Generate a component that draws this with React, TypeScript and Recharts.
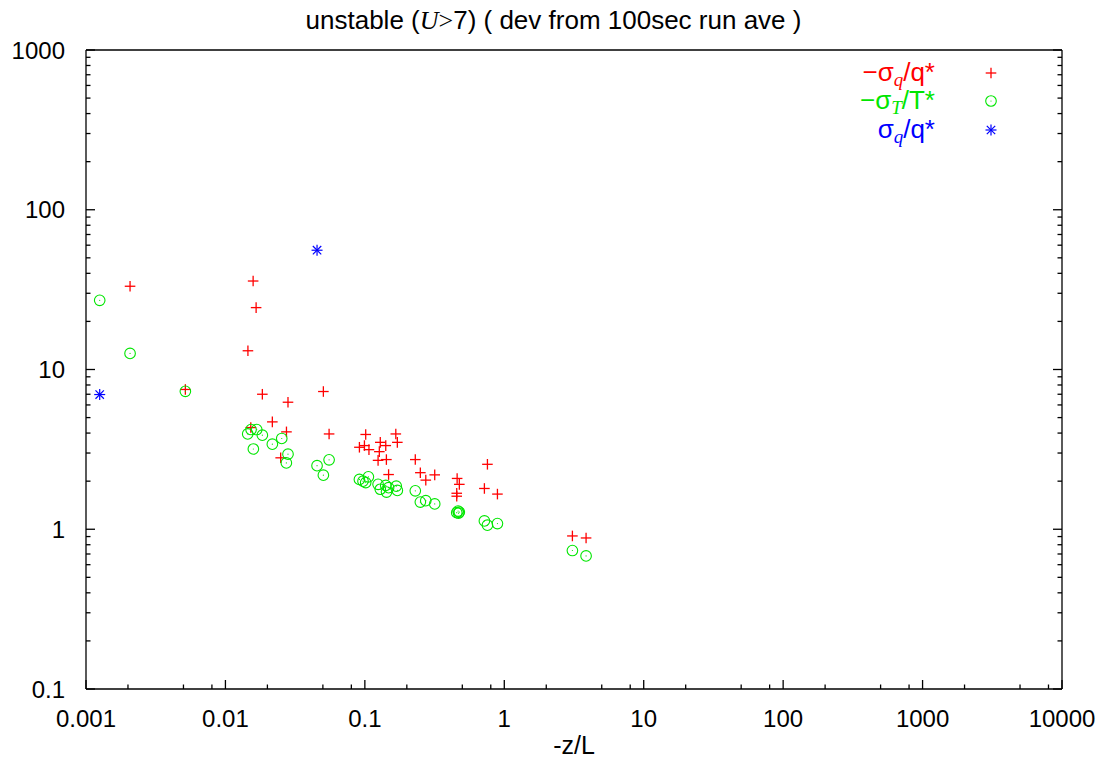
import React from "react";
import { ScatterChart, Scatter, XAxis, YAxis, Legend } from "recharts";

const X_MAJOR = [0.001, 0.01, 0.1, 1, 10, 100, 1000, 10000];
const X_LABELS = ["0.001", "0.01", "0.1", "1", "10", "100", "1000", "10000"];
const X_MINOR_STEPS = [2, 5, 8];
const Y_MAJOR = [0.1, 1, 10, 100, 1000];
const Y_LABELS = ["0.1", "1", "10", "100", "1000"];
const Y_MINOR_STEPS = [2, 3, 4, 5, 6, 7, 8, 9];

// -sigma_q / q*
const negSigmaQ: [number, number][] = [
  [0.00207, 33.2], [0.0158, 35.8], [0.0166, 24.4], [0.0145, 13.1],
  [0.00516, 7.5], [0.0184, 7.0], [0.0281, 6.24], [0.0217, 4.7],
  [0.0152, 4.33], [0.0274, 4.07], [0.0504, 7.28], [0.0554, 3.95],
  [0.1014, 3.92], [0.1667, 3.95], [0.171, 3.5], [0.129, 3.5],
  [0.1412, 3.34], [0.0914, 3.26], [0.0993, 3.34], [0.107, 3.15],
  [0.127, 3.06], [0.1244, 2.7], [0.1427, 2.73], [0.23, 2.73],
  [0.148, 2.2], [0.0249, 2.8], [0.25, 2.26], [0.2735, 2.03],
  [0.317, 2.19], [0.757, 2.55], [0.459, 2.08], [0.476, 1.91],
  [0.456, 1.68], [0.456, 1.61], [0.72, 1.8], [0.893, 1.66],
  [3.08, 0.908], [3.86, 0.882],
];

// -sigma_T / T*
const negSigmaT: [number, number][] = [
  [0.001254, 27.1], [0.00207, 12.6], [0.00516, 7.3], [0.01445, 3.95],
  [0.01527, 4.21], [0.01677, 4.21], [0.0184, 3.88], [0.01586, 3.18],
  [0.0217, 3.41], [0.02535, 3.7], [0.0281, 2.95], [0.02735, 2.6],
  [0.0454, 2.5], [0.0554, 2.72], [0.0504, 2.18], [0.0914, 2.05],
  [0.106, 2.13], [0.1014, 1.96], [0.097, 2.0], [0.1244, 1.91],
  [0.129, 1.78], [0.1412, 1.88], [0.143, 1.71], [0.148, 1.82],
  [0.168, 1.86], [0.171, 1.75], [0.23, 1.74], [0.25, 1.48],
  [0.2735, 1.51], [0.317, 1.44], [0.456, 1.27], [0.466, 1.3],
  [0.476, 1.28], [0.47, 1.26], [0.72, 1.127], [0.757, 1.06],
  [0.893, 1.085], [3.08, 0.736], [3.86, 0.681],
];

// sigma_q / q*
const posSigmaQ: [number, number][] = [
  [0.001254, 6.97], [0.0454, 55.8],
];

const RED = "#ff0000";
const GREEN = "#00e600";
const BLUE = "#0000ff";
const FONT = "'Liberation Sans', Arial, sans-serif";
const SERIF = "'Liberation Serif', 'Times New Roman', serif";

const toPoints = (arr: [number, number][]) => arr.map(([x, y]) => ({ x, y }));

const withMinors = (majors: number[], steps: number[]) => [
  ...majors,
  ...majors.slice(0, -1).flatMap((d) => steps.map((m) => d * m)),
];
const xTicks = withMinors(X_MAJOR, X_MINOR_STEPS);
const yTicks = withMinors(Y_MAJOR, Y_MINOR_STEPS);

const majorIndex = (majors: number[], v: number) =>
  majors.findIndex((m) => Math.abs(Math.log10(m) - Math.log10(v)) < 1e-6);

type Side = "bottom" | "top" | "left" | "right";

const makeTick = (side: Side) => (props: any) => {
  const { x, y, payload } = props;
  const majors = side === "bottom" || side === "top" ? X_MAJOR : Y_MAJOR;
  const labels = side === "bottom" || side === "top" ? X_LABELS : Y_LABELS;
  const idx = majorIndex(majors, payload.value);
  const len = idx >= 0 ? 9 : 4.5;
  let x2 = x;
  let y2 = y;
  if (side === "bottom") y2 = y - len;
  if (side === "top") y2 = y + len;
  if (side === "left") x2 = x + len;
  if (side === "right") x2 = x - len;
  return (
    <g>
      <line x1={x} y1={y} x2={x2} y2={y2} stroke="#000" strokeWidth={1.3} />
      {idx >= 0 && side === "bottom" && (
        <text x={x} y={y + 38} textAnchor="middle" fontSize={24} fontFamily={FONT} fill="#000">
          {labels[idx]}
        </text>
      )}
      {idx >= 0 && side === "left" && (
        <text x={x - 21} y={y} dy="0.36em" textAnchor="end" fontSize={24} fontFamily={FONT} fill="#000">
          {labels[idx]}
        </text>
      )}
    </g>
  );
};

const PlusMark = (props: any) => {
  const { cx, cy } = props;
  const s = 5.3;
  return (
    <g stroke={RED} strokeWidth={1.3}>
      <line x1={cx - s} y1={cy} x2={cx + s} y2={cy} />
      <line x1={cx} y1={cy - s} x2={cx} y2={cy + s} />
    </g>
  );
};

const CircleMark = (props: any) => {
  const { cx, cy } = props;
  return (
    <g>
      <circle cx={cx} cy={cy} r={5.3} fill="none" stroke={GREEN} strokeWidth={1.1} />
      <circle cx={cx} cy={cy} r={0.6} fill={GREEN} />
    </g>
  );
};

const StarMark = (props: any) => {
  const { cx, cy } = props;
  const s = 5.5;
  const d = 4.2;
  return (
    <g stroke={BLUE} strokeWidth={1.2}>
      <line x1={cx - s} y1={cy} x2={cx + s} y2={cy} />
      <line x1={cx} y1={cy - s} x2={cx} y2={cy + s} />
      <line x1={cx - d} y1={cy - d} x2={cx + d} y2={cy + d} />
      <line x1={cx - d} y1={cy + d} x2={cx + d} y2={cy - d} />
    </g>
  );
};

const sub = (t: string) => (
  <sub style={{ fontFamily: SERIF, fontStyle: "italic", fontSize: 19, verticalAlign: "-5px" }}>{t}</sub>
);

const legendRows = [
  { label: <>−σ{sub("q")}/q*</>, color: RED, mark: PlusMark, cy: 73 },
  { label: <>−σ{sub("T")}/T*</>, color: GREEN, mark: CircleMark, cy: 101 },
  { label: <>σ{sub("q")}/q*</>, color: BLUE, mark: StarMark, cy: 130 },
];

const LegendContent = () => (
  <div style={{ position: "relative", width: 1107, height: 0 }}>
    {legendRows.map((r, i) => {
      const Mark = r.mark;
      return (
        <React.Fragment key={i}>
          <div
            style={{
              position: "absolute",
              right: 1107 - 935,
              top: r.cy - 16,
              height: 30,
              lineHeight: "30px",
              fontSize: 26,
              fontFamily: FONT,
              color: r.color,
              whiteSpace: "nowrap",
            }}
          >
            {r.label}
          </div>
          <svg
            style={{ position: "absolute", left: 991 - 8, top: r.cy - 8 }}
            width={16}
            height={16}
          >
            <Mark cx={8} cy={8} />
          </svg>
        </React.Fragment>
      );
    })}
  </div>
);

export default function App() {
  return (
    <div style={{ position: "absolute", left: 0, top: 0, width: 1107, height: 760, background: "#fff" }}>
      <div
        style={{
          position: "absolute",
          left: 0,
          top: 7,
          width: 1107,
          textAlign: "center",
          fontSize: 26,
          lineHeight: "26px",
          fontFamily: FONT,
          color: "#000",
          whiteSpace: "nowrap",
        }}
      >
        unstable (<span style={{ fontFamily: SERIF, fontStyle: "italic" }}>U</span>
        <span style={{ fontFamily: SERIF }}>&gt;</span>7) ( dev from 100sec run ave )
      </div>
      <ScatterChart width={1107} height={760} margin={{ top: 40, right: 0, bottom: 0, left: 0 }}>
        <XAxis
          xAxisId={0}
          dataKey="x"
          type="number"
          scale="log"
          domain={[0.001, 10000]}
          allowDataOverflow
          ticks={xTicks}
          interval={0}
          height={71}
          tickSize={0}
          tickMargin={0}
          tickLine={false}
          axisLine={{ stroke: "#000", strokeWidth: 1.3 }}
          tick={makeTick("bottom")}
          label={{ value: "-z/L", position: "insideBottom", offset: 6, fontSize: 25, fontFamily: FONT, fill: "#000" }}
        />
        <XAxis
          xAxisId="top"
          orientation="top"
          type="number"
          scale="log"
          domain={[0.001, 10000]}
          allowDataOverflow
          ticks={xTicks}
          interval={0}
          height={10}
          tickSize={0}
          tickMargin={0}
          tickLine={false}
          axisLine={{ stroke: "#000", strokeWidth: 1.3 }}
          tick={makeTick("top")}
        />
        <YAxis
          yAxisId={0}
          dataKey="y"
          type="number"
          scale="log"
          domain={[0.1, 1000]}
          allowDataOverflow
          ticks={yTicks}
          interval={0}
          width={86}
          tickSize={0}
          tickMargin={0}
          tickLine={false}
          axisLine={{ stroke: "#000", strokeWidth: 1.3 }}
          tick={makeTick("left")}
        />
        <YAxis
          yAxisId="right"
          orientation="right"
          type="number"
          scale="log"
          domain={[0.1, 1000]}
          allowDataOverflow
          ticks={yTicks}
          interval={0}
          width={45}
          tickSize={0}
          tickMargin={0}
          tickLine={false}
          axisLine={{ stroke: "#000", strokeWidth: 1.3 }}
          tick={makeTick("right")}
        />
        <Legend
          layout="vertical"
          align="center"
          verticalAlign="middle"
          wrapperStyle={{ left: 0, top: 0, width: 1107, height: 0 }}
          content={() => <LegendContent />}
        />
        <Scatter name="-sigma_q/q*" data={toPoints(negSigmaQ)} shape={(p: any) => <PlusMark {...p} />} isAnimationActive={false} />
        <Scatter name="-sigma_T/T*" data={toPoints(negSigmaT)} shape={(p: any) => <CircleMark {...p} />} isAnimationActive={false} />
        <Scatter name="sigma_q/q*" data={toPoints(posSigmaQ)} shape={(p: any) => <StarMark {...p} />} isAnimationActive={false} />
      </ScatterChart>
    </div>
  );
}
